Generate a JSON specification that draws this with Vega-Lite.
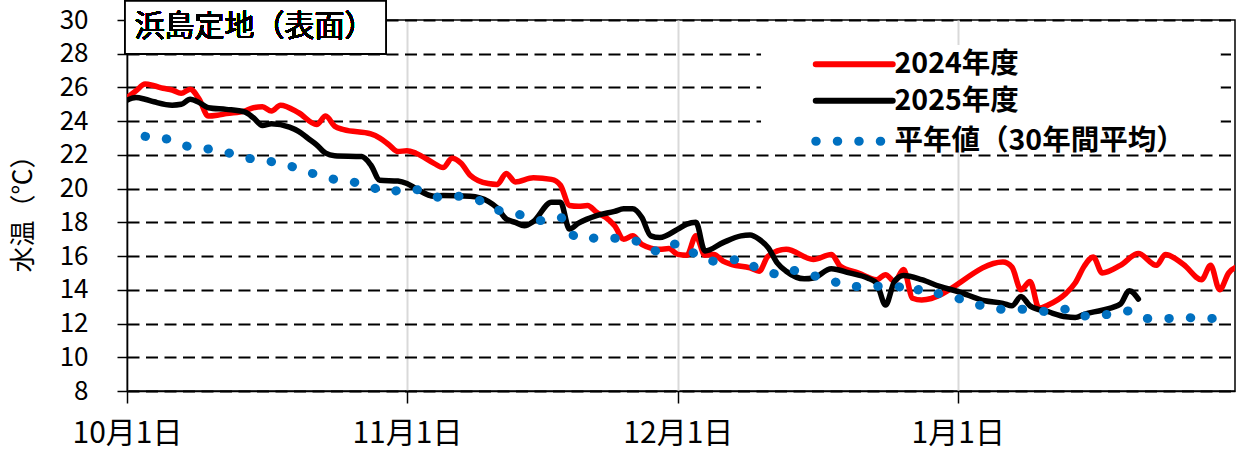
{
  "$schema": "https://vega.github.io/schema/vega-lite/v6.json",
  "width": 1108,
  "height": 371,
  "autosize": {"type": "none"},
  "padding": {"left": 127, "top": 20, "right": 5, "bottom": 68},
  "background": "white",
  "config": {
    "view": {"stroke": "black", "strokeWidth": 1.5},
    "font": "Noto Sans CJK JP"
  },
  "data": {
    "values": [
      {"series": "2024年度", "date": "2025-10-01", "temp": 25.4},
      {"series": "2024年度", "date": "2025-10-02", "temp": 25.8},
      {"series": "2024年度", "date": "2025-10-03", "temp": 26.2},
      {"series": "2024年度", "date": "2025-10-04", "temp": 26.1},
      {"series": "2024年度", "date": "2025-10-05", "temp": 25.95},
      {"series": "2024年度", "date": "2025-10-06", "temp": 25.85},
      {"series": "2024年度", "date": "2025-10-07", "temp": 25.65},
      {"series": "2024年度", "date": "2025-10-08", "temp": 25.9},
      {"series": "2024年度", "date": "2025-10-09", "temp": 25.3},
      {"series": "2024年度", "date": "2025-10-10", "temp": 24.3},
      {"series": "2024年度", "date": "2025-10-11", "temp": 24.35},
      {"series": "2024年度", "date": "2025-10-12", "temp": 24.45},
      {"series": "2024年度", "date": "2025-10-14", "temp": 24.6},
      {"series": "2024年度", "date": "2025-10-15", "temp": 24.8},
      {"series": "2024年度", "date": "2025-10-16", "temp": 24.85},
      {"series": "2024年度", "date": "2025-10-17", "temp": 24.6},
      {"series": "2024年度", "date": "2025-10-18", "temp": 24.95},
      {"series": "2024年度", "date": "2025-10-20", "temp": 24.5},
      {"series": "2024年度", "date": "2025-10-22", "temp": 23.8},
      {"series": "2024年度", "date": "2025-10-23", "temp": 24.3},
      {"series": "2024年度", "date": "2025-10-24", "temp": 23.7},
      {"series": "2024年度", "date": "2025-10-25", "temp": 23.5},
      {"series": "2024年度", "date": "2025-10-28", "temp": 23.25},
      {"series": "2024年度", "date": "2025-10-29", "temp": 23.0},
      {"series": "2024年度", "date": "2025-10-30", "temp": 22.6},
      {"series": "2024年度", "date": "2025-10-31", "temp": 22.2},
      {"series": "2024年度", "date": "2025-11-01", "temp": 22.25},
      {"series": "2024年度", "date": "2025-11-02", "temp": 22.1},
      {"series": "2024年度", "date": "2025-11-04", "temp": 21.5},
      {"series": "2024年度", "date": "2025-11-05", "temp": 21.25},
      {"series": "2024年度", "date": "2025-11-06", "temp": 21.8},
      {"series": "2024年度", "date": "2025-11-07", "temp": 21.5},
      {"series": "2024年度", "date": "2025-11-08", "temp": 20.8},
      {"series": "2024年度", "date": "2025-11-10", "temp": 20.3},
      {"series": "2024年度", "date": "2025-11-11", "temp": 20.25},
      {"series": "2024年度", "date": "2025-11-12", "temp": 20.9},
      {"series": "2024年度", "date": "2025-11-13", "temp": 20.4},
      {"series": "2024年度", "date": "2025-11-15", "temp": 20.65},
      {"series": "2024年度", "date": "2025-11-17", "temp": 20.55},
      {"series": "2024年度", "date": "2025-11-18", "temp": 20.2},
      {"series": "2024年度", "date": "2025-11-19", "temp": 19.0},
      {"series": "2024年度", "date": "2025-11-20", "temp": 18.95},
      {"series": "2024年度", "date": "2025-11-21", "temp": 19.0},
      {"series": "2024年度", "date": "2025-11-22", "temp": 18.6},
      {"series": "2024年度", "date": "2025-11-23", "temp": 18.3},
      {"series": "2024年度", "date": "2025-11-24", "temp": 17.8},
      {"series": "2024年度", "date": "2025-11-25", "temp": 17.0},
      {"series": "2024年度", "date": "2025-11-26", "temp": 17.2},
      {"series": "2024年度", "date": "2025-11-27", "temp": 16.7},
      {"series": "2024年度", "date": "2025-11-29", "temp": 16.4},
      {"series": "2024年度", "date": "2025-11-30", "temp": 16.45},
      {"series": "2024年度", "date": "2025-12-01", "temp": 16.1},
      {"series": "2024年度", "date": "2025-12-02", "temp": 16.05},
      {"series": "2024年度", "date": "2025-12-03", "temp": 17.2},
      {"series": "2024年度", "date": "2025-12-04", "temp": 16.05},
      {"series": "2024年度", "date": "2025-12-05", "temp": 16.1},
      {"series": "2024年度", "date": "2025-12-06", "temp": 15.7},
      {"series": "2024年度", "date": "2025-12-07", "temp": 15.5},
      {"series": "2024年度", "date": "2025-12-09", "temp": 15.3},
      {"series": "2024年度", "date": "2025-12-10", "temp": 15.1},
      {"series": "2024年度", "date": "2025-12-11", "temp": 16.0},
      {"series": "2024年度", "date": "2025-12-13", "temp": 16.4},
      {"series": "2024年度", "date": "2025-12-16", "temp": 15.8},
      {"series": "2024年度", "date": "2025-12-18", "temp": 16.1},
      {"series": "2024年度", "date": "2025-12-19", "temp": 15.4},
      {"series": "2024年度", "date": "2025-12-21", "temp": 15.0},
      {"series": "2024年度", "date": "2025-12-23", "temp": 14.6},
      {"series": "2024年度", "date": "2025-12-24", "temp": 14.9},
      {"series": "2024年度", "date": "2025-12-25", "temp": 14.5},
      {"series": "2024年度", "date": "2025-12-26", "temp": 15.2},
      {"series": "2024年度", "date": "2025-12-27", "temp": 13.5},
      {"series": "2024年度", "date": "2025-12-28", "temp": 13.4},
      {"series": "2024年度", "date": "2026-01-06", "temp": 15.65},
      {"series": "2024年度", "date": "2026-01-07", "temp": 15.35},
      {"series": "2024年度", "date": "2026-01-08", "temp": 14.0},
      {"series": "2024年度", "date": "2026-01-09", "temp": 14.5},
      {"series": "2024年度", "date": "2026-01-10", "temp": 12.9},
      {"series": "2024年度", "date": "2026-01-11", "temp": 13.1},
      {"series": "2024年度", "date": "2026-01-13", "temp": 13.8},
      {"series": "2024年度", "date": "2026-01-14", "temp": 14.4},
      {"series": "2024年度", "date": "2026-01-15", "temp": 15.4},
      {"series": "2024年度", "date": "2026-01-16", "temp": 15.95},
      {"series": "2024年度", "date": "2026-01-17", "temp": 15.0},
      {"series": "2024年度", "date": "2026-01-19", "temp": 15.45},
      {"series": "2024年度", "date": "2026-01-21", "temp": 16.15},
      {"series": "2024年度", "date": "2026-01-23", "temp": 15.45},
      {"series": "2024年度", "date": "2026-01-24", "temp": 16.1},
      {"series": "2024年度", "date": "2026-01-26", "temp": 15.5},
      {"series": "2024年度", "date": "2026-01-28", "temp": 14.6},
      {"series": "2024年度", "date": "2026-01-29", "temp": 15.45},
      {"series": "2024年度", "date": "2026-01-30", "temp": 14.0},
      {"series": "2024年度", "date": "2026-01-31", "temp": 15.0},
      {"series": "2024年度", "date": "2026-02-01", "temp": 15.4},

      {"series": "2025年度", "date": "2025-10-01", "temp": 25.25},
      {"series": "2025年度", "date": "2025-10-02", "temp": 25.4},
      {"series": "2025年度", "date": "2025-10-03", "temp": 25.3},
      {"series": "2025年度", "date": "2025-10-04", "temp": 25.15},
      {"series": "2025年度", "date": "2025-10-06", "temp": 24.95},
      {"series": "2025年度", "date": "2025-10-07", "temp": 25.0},
      {"series": "2025年度", "date": "2025-10-08", "temp": 25.3},
      {"series": "2025年度", "date": "2025-10-09", "temp": 25.1},
      {"series": "2025年度", "date": "2025-10-10", "temp": 24.8},
      {"series": "2025年度", "date": "2025-10-12", "temp": 24.7},
      {"series": "2025年度", "date": "2025-10-14", "temp": 24.55},
      {"series": "2025年度", "date": "2025-10-15", "temp": 24.2},
      {"series": "2025年度", "date": "2025-10-16", "temp": 23.75},
      {"series": "2025年度", "date": "2025-10-17", "temp": 23.85},
      {"series": "2025年度", "date": "2025-10-19", "temp": 23.65},
      {"series": "2025年度", "date": "2025-10-20", "temp": 23.4},
      {"series": "2025年度", "date": "2025-10-21", "temp": 23.0},
      {"series": "2025年度", "date": "2025-10-22", "temp": 22.6},
      {"series": "2025年度", "date": "2025-10-23", "temp": 22.1},
      {"series": "2025年度", "date": "2025-10-24", "temp": 21.95},
      {"series": "2025年度", "date": "2025-10-27", "temp": 21.9},
      {"series": "2025年度", "date": "2025-10-28", "temp": 21.4},
      {"series": "2025年度", "date": "2025-10-29", "temp": 20.5},
      {"series": "2025年度", "date": "2025-10-31", "temp": 20.45},
      {"series": "2025年度", "date": "2025-11-01", "temp": 20.3},
      {"series": "2025年度", "date": "2025-11-02", "temp": 20.0},
      {"series": "2025年度", "date": "2025-11-04", "temp": 19.55},
      {"series": "2025年度", "date": "2025-11-05", "temp": 19.6},
      {"series": "2025年度", "date": "2025-11-08", "temp": 19.55},
      {"series": "2025年度", "date": "2025-11-10", "temp": 19.25},
      {"series": "2025年度", "date": "2025-11-11", "temp": 18.85},
      {"series": "2025年度", "date": "2025-11-12", "temp": 18.2},
      {"series": "2025年度", "date": "2025-11-13", "temp": 18.0},
      {"series": "2025年度", "date": "2025-11-14", "temp": 17.8},
      {"series": "2025年度", "date": "2025-11-15", "temp": 18.05},
      {"series": "2025年度", "date": "2025-11-17", "temp": 19.2},
      {"series": "2025年度", "date": "2025-11-18", "temp": 19.2},
      {"series": "2025年度", "date": "2025-11-19", "temp": 17.6},
      {"series": "2025年度", "date": "2025-11-20", "temp": 17.95},
      {"series": "2025年度", "date": "2025-11-22", "temp": 18.4},
      {"series": "2025年度", "date": "2025-11-24", "temp": 18.65},
      {"series": "2025年度", "date": "2025-11-25", "temp": 18.8},
      {"series": "2025年度", "date": "2025-11-26", "temp": 18.8},
      {"series": "2025年度", "date": "2025-11-27", "temp": 18.3},
      {"series": "2025年度", "date": "2025-11-28", "temp": 17.2},
      {"series": "2025年度", "date": "2025-11-29", "temp": 17.1},
      {"series": "2025年度", "date": "2025-12-01", "temp": 17.6},
      {"series": "2025年度", "date": "2025-12-02", "temp": 17.9},
      {"series": "2025年度", "date": "2025-12-03", "temp": 18.0},
      {"series": "2025年度", "date": "2025-12-04", "temp": 16.3},
      {"series": "2025年度", "date": "2025-12-06", "temp": 16.8},
      {"series": "2025年度", "date": "2025-12-08", "temp": 17.2},
      {"series": "2025年度", "date": "2025-12-09", "temp": 17.25},
      {"series": "2025年度", "date": "2025-12-10", "temp": 17.0},
      {"series": "2025年度", "date": "2025-12-11", "temp": 16.5},
      {"series": "2025年度", "date": "2025-12-12", "temp": 15.6},
      {"series": "2025年度", "date": "2025-12-13", "temp": 15.1},
      {"series": "2025年度", "date": "2025-12-15", "temp": 14.65},
      {"series": "2025年度", "date": "2025-12-16", "temp": 14.7},
      {"series": "2025年度", "date": "2025-12-18", "temp": 15.25},
      {"series": "2025年度", "date": "2025-12-20", "temp": 15.0},
      {"series": "2025年度", "date": "2025-12-22", "temp": 14.7},
      {"series": "2025年度", "date": "2025-12-23", "temp": 14.4},
      {"series": "2025年度", "date": "2025-12-24", "temp": 13.1},
      {"series": "2025年度", "date": "2025-12-25", "temp": 14.5},
      {"series": "2025年度", "date": "2025-12-26", "temp": 14.85},
      {"series": "2025年度", "date": "2025-12-28", "temp": 14.6},
      {"series": "2025年度", "date": "2025-12-30", "temp": 14.2},
      {"series": "2025年度", "date": "2026-01-01", "temp": 13.9},
      {"series": "2025年度", "date": "2026-01-04", "temp": 13.35},
      {"series": "2025年度", "date": "2026-01-06", "temp": 13.2},
      {"series": "2025年度", "date": "2026-01-07", "temp": 13.05},
      {"series": "2025年度", "date": "2026-01-08", "temp": 13.6},
      {"series": "2025年度", "date": "2026-01-09", "temp": 13.05},
      {"series": "2025年度", "date": "2026-01-11", "temp": 12.7},
      {"series": "2025年度", "date": "2026-01-13", "temp": 12.4},
      {"series": "2025年度", "date": "2026-01-14", "temp": 12.36},
      {"series": "2025年度", "date": "2026-01-15", "temp": 12.55},
      {"series": "2025年度", "date": "2026-01-17", "temp": 12.8},
      {"series": "2025年度", "date": "2026-01-19", "temp": 13.15},
      {"series": "2025年度", "date": "2026-01-20", "temp": 13.95},
      {"series": "2025年度", "date": "2026-01-21", "temp": 13.45},

      {"series": "平年値（30年間平均）", "date": "2025-10-03", "temp": 23.1},
      {"series": "平年値（30年間平均）", "date": "2025-10-05", "temp": 23.0},
      {"series": "平年値（30年間平均）", "date": "2025-10-07", "temp": 22.6},
      {"series": "平年値（30年間平均）", "date": "2025-10-10", "temp": 22.35},
      {"series": "平年値（30年間平均）", "date": "2025-10-12", "temp": 22.15},
      {"series": "平年値（30年間平均）", "date": "2025-10-14", "temp": 21.85},
      {"series": "平年値（30年間平均）", "date": "2025-10-17", "temp": 21.6},
      {"series": "平年値（30年間平均）", "date": "2025-10-19", "temp": 21.35},
      {"series": "平年値（30年間平均）", "date": "2025-10-21", "temp": 21.0},
      {"series": "平年値（30年間平均）", "date": "2025-10-23", "temp": 20.65},
      {"series": "平年値（30年間平均）", "date": "2025-10-26", "temp": 20.4},
      {"series": "平年値（30年間平均）", "date": "2025-10-28", "temp": 20.1},
      {"series": "平年値（30年間平均）", "date": "2025-10-30", "temp": 19.8},
      {"series": "平年値（30年間平均）", "date": "2025-11-01", "temp": 20.0},
      {"series": "平年値（30年間平均）", "date": "2025-11-02", "temp": 19.95},
      {"series": "平年値（30年間平均）", "date": "2025-11-05", "temp": 19.45},
      {"series": "平年値（30年間平均）", "date": "2025-11-07", "temp": 19.55},
      {"series": "平年値（30年間平均）", "date": "2025-11-09", "temp": 19.3},
      {"series": "平年値（30年間平均）", "date": "2025-11-11", "temp": 18.75},
      {"series": "平年値（30年間平均）", "date": "2025-11-14", "temp": 18.4},
      {"series": "平年値（30年間平均）", "date": "2025-11-16", "temp": 18.1},
      {"series": "平年値（30年間平均）", "date": "2025-11-18", "temp": 18.3},
      {"series": "平年値（30年間平均）", "date": "2025-11-19", "temp": 17.4},
      {"series": "平年値（30年間平均）", "date": "2025-11-21", "temp": 16.95},
      {"series": "平年値（30年間平均）", "date": "2025-11-22", "temp": 17.1},
      {"series": "平年値（30年間平均）", "date": "2025-11-25", "temp": 17.0},
      {"series": "平年値（30年間平均）", "date": "2025-11-27", "temp": 16.8},
      {"series": "平年値（30年間平均）", "date": "2025-11-29", "temp": 16.25},
      {"series": "平年値（30年間平均）", "date": "2025-12-01", "temp": 16.75},
      {"series": "平年値（30年間平均）", "date": "2025-12-03", "temp": 16.1},
      {"series": "平年値（30年間平均）", "date": "2025-12-05", "temp": 15.7},
      {"series": "平年値（30年間平均）", "date": "2025-12-08", "temp": 15.8},
      {"series": "平年値（30年間平均）", "date": "2025-12-10", "temp": 15.2},
      {"series": "平年値（30年間平均）", "date": "2025-12-12", "temp": 14.95},
      {"series": "平年値（30年間平均）", "date": "2025-12-13", "temp": 15.2},
      {"series": "平年値（30年間平均）", "date": "2025-12-16", "temp": 14.85},
      {"series": "平年値（30年間平均）", "date": "2025-12-18", "temp": 14.55},
      {"series": "平年値（30年間平均）", "date": "2025-12-20", "temp": 14.2},
      {"series": "平年値（30年間平均）", "date": "2025-12-22", "temp": 14.2},
      {"series": "平年値（30年間平均）", "date": "2025-12-25", "temp": 14.25},
      {"series": "平年値（30年間平均）", "date": "2025-12-27", "temp": 13.8},
      {"series": "平年値（30年間平均）", "date": "2025-12-28", "temp": 14.1},
      {"series": "平年値（30年間平均）", "date": "2025-12-30", "temp": 13.75},
      {"series": "平年値（30年間平均）", "date": "2026-01-02", "temp": 13.35},
      {"series": "平年値（30年間平均）", "date": "2026-01-04", "temp": 13.0},
      {"series": "平年値（30年間平均）", "date": "2026-01-06", "temp": 12.85},
      {"series": "平年値（30年間平均）", "date": "2026-01-09", "temp": 12.85},
      {"series": "平年値（30年間平均）", "date": "2026-01-11", "temp": 12.7},
      {"series": "平年値（30年間平均）", "date": "2026-01-13", "temp": 12.85},
      {"series": "平年値（30年間平均）", "date": "2026-01-15", "temp": 12.45},
      {"series": "平年値（30年間平均）", "date": "2026-01-17", "temp": 12.5},
      {"series": "平年値（30年間平均）", "date": "2026-01-20", "temp": 12.75},
      {"series": "平年値（30年間平均）", "date": "2026-01-22", "temp": 12.3},
      {"series": "平年値（30年間平均）", "date": "2026-01-24", "temp": 12.3},
      {"series": "平年値（30年間平均）", "date": "2026-01-26", "temp": 12.35},
      {"series": "平年値（30年間平均）", "date": "2026-01-29", "temp": 12.3},
      {"series": "平年値（30年間平均）", "date": "2026-01-31", "temp": 12.35}
    ]
  },
  "encoding": {
    "x": {
      "field": "date",
      "type": "temporal",
      "scale": {
        "type": "utc",
        "domain": [
          {"year": 2025, "month": 10, "date": 1, "utc": true},
          {"year": 2026, "month": 1, "date": 31, "hours": 16, "minutes": 48, "utc": true}
        ]
      },
      "axis": {
        "values": [
          {"year": 2025, "month": 10, "date": 1, "utc": true},
          {"year": 2025, "month": 11, "date": 1, "utc": true},
          {"year": 2025, "month": 12, "date": 1, "utc": true},
          {"year": 2026, "month": 1, "date": 1, "utc": true}
        ],
        "labelExpr": "(utcmonth(datum.value) + 1) + '月' + utcdate(datum.value) + '日'",
        "title": null,
        "grid": true,
        "gridColor": "#D9D9D9",
        "gridWidth": 2,
        "domainColor": "black",
        "domainWidth": 1.5,
        "tickColor": "black",
        "tickWidth": 1.5,
        "tickSize": 12,
        "labelFont": "Noto Sans CJK JP",
        "labelFontSize": 30,
        "labelColor": "black",
        "labelPadding": 15,
        "labelFlush": false,
        "labelOverlap": false,
        "encode": {"ticks": {"update": {"y": {"value": -12}}}}
      }
    },
    "y": {
      "field": "temp",
      "type": "quantitative",
      "scale": {"domain": [8, 30], "nice": false, "zero": false},
      "axis": {
        "values": [8, 10, 12, 14, 16, 18, 20, 22, 24, 26, 28, 30],
        "title": "水温（℃）",
        "titleFont": "Noto Sans CJK JP",
        "titleFontSize": 26,
        "titleFontWeight": "normal",
        "titleColor": "black",
        "titleX": -104,
        "titleY": 187,
        "titleAngle": -90,
        "titleAlign": "center",
        "titleBaseline": "middle",
        "grid": true,
        "gridColor": "black",
        "gridDash": [12, 6.5],
        "gridWidth": 2,
        "domainColor": "black",
        "domainWidth": 1.5,
        "tickColor": "black",
        "tickWidth": 1.5,
        "tickSize": 10,
        "labelFont": "Noto Sans CJK JP",
        "labelFontSize": 26,
        "labelColor": "black",
        "labelPadding": 29,
        "labelOverlap": false,
        "encode": {"ticks": {"update": {"x": {"value": 5}}}}
      }
    }
  },
  "layer": [
    {
      "mark": {"type": "rect", "fill": "white", "strokeWidth": 0},
      "encoding": {
        "x": {"datum": {"year": 2025, "month": 12, "date": 10, "hours": 7, "utc": true}, "type": "temporal"},
        "x2": {"datum": {"year": 2026, "month": 1, "date": 30, "hours": 1, "utc": true}},
        "y": {"datum": 28.52, "type": "quantitative"},
        "y2": {"datum": 22.17}
      }
    },
    {
      "mark": {"type": "rect", "fill": "white", "stroke": "black", "strokeWidth": 1.5, "clip": false},
      "encoding": {
        "x": {"datum": {"year": 2025, "month": 9, "date": 30, "hours": 19, "utc": true}, "type": "temporal"},
        "x2": {"datum": {"year": 2025, "month": 10, "date": 29, "hours": 16, "utc": true}},
        "y": {"datum": 31.13, "type": "quantitative"},
        "y2": {"datum": 28.0}
      }
    },
    {
      "mark": {"type": "text", "text": "浜島定地（表面）", "font": "Noto Sans CJK JP", "fontSize": 30, "fontWeight": "normal", "color": "black", "align": "center", "baseline": "middle"},
      "encoding": {
        "x": {"datum": {"year": 2025, "month": 10, "date": 15, "hours": 3, "utc": true}, "type": "temporal"},
        "y": {"datum": 29.6, "type": "quantitative"}
      }
    },
    {
      "transform": [{"filter": {"field": "series", "oneOf": ["2024年度", "2025年度"]}}],
      "mark": {"type": "line", "strokeWidth": 5.5, "strokeCap": "round", "strokeJoin": "round", "interpolate": "monotone", "clip": true},
      "encoding": {
        "color": {
          "field": "series",
          "type": "nominal",
          "scale": {"domain": ["2024年度", "2025年度", "平年値（30年間平均）"], "range": ["#FF0000", "#000000", "#0070C0"]},
          "legend": {
            "orient": "none",
            "legendX": 689,
            "legendY": 30,
            "title": null,
            "symbolType": "stroke",
            "symbolSize": 5929,
            "symbolStrokeWidth": 6,
            "symbolOffset": 24,
            "labelFont": "Noto Sans CJK JP",
            "labelFontSize": 28.5,
            "labelFontWeight": "bold",
            "labelColor": "black",
            "labelOffset": 26,
            "labelLimit": 500,
            "padding": 0,
            "rowPadding": 7.5,
            "encode": {
              "symbols": {
                "update": {
                  "strokeDash": {"signal": "datum.index === 2 ? [0.5, 21] : [1, 0]"},
                  "strokeWidth": {"signal": "datum.index === 2 ? 9 : 6"},
                  "strokeCap": {"value": "round"}
                }
              }
            }
          }
        }
      }
    },
    {
      "transform": [{"filter": {"field": "series", "equal": "平年値（30年間平均）"}}],
      "mark": {"type": "line", "strokeWidth": 9, "strokeDash": [0.5, 21], "strokeCap": "round", "interpolate": "monotone", "clip": true},
      "encoding": {
        "color": {
          "field": "series",
          "type": "nominal",
          "scale": {"domain": ["2024年度", "2025年度", "平年値（30年間平均）"], "range": ["#FF0000", "#000000", "#0070C0"]}
        }
      }
    }
  ]
}
